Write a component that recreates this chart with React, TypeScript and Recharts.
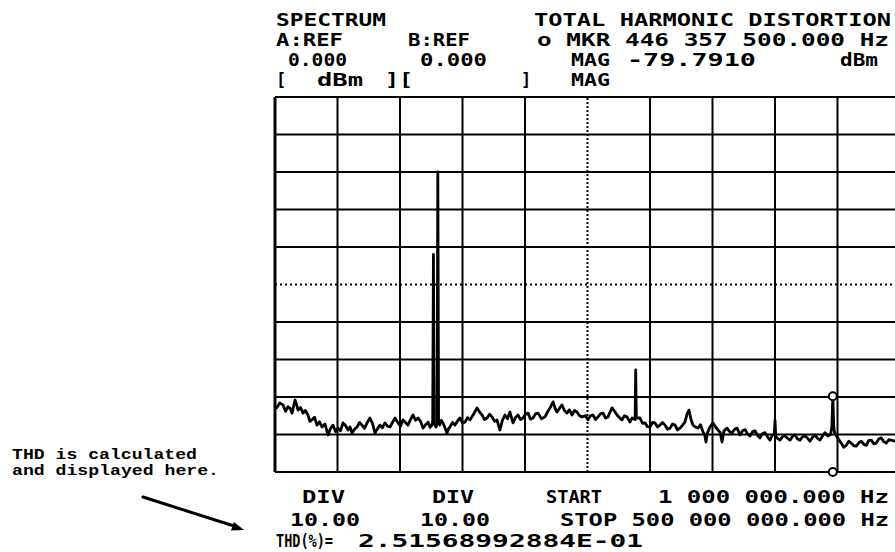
import React from "react";
import { LineChart, Line, XAxis, YAxis, ReferenceLine, ReferenceDot } from "recharts";

// Spectrum trace (frequency in MHz, level in dBm)
const freqMHz = [
  1, 2.4, 4.8, 7.4, 9.4, 11.4, 13.0, 14.6, 15.8, 17.0,
  18.2, 19.4, 21.4, 23.4, 25.3, 27.3, 28.9, 30.5, 32.5, 34.5,
  36.5, 38.5, 40.9, 43.3, 45.3, 47.3, 49.3, 51.3, 53.3, 55.3,
  57.3, 59.3, 60.9, 62.5, 64.5, 66.5, 68.5, 70.5, 72.5, 74.5,
  76.8, 78.8, 80.8, 82.8, 84.8, 86.8, 88.8, 90.8, 92.8, 94.8,
  96.8, 99.2, 101.2, 103.2, 105.2, 107.2, 109.2, 111.2, 113.2, 115.2,
  117.2, 119.2, 121.2, 123.2, 124.8, 126.3, 126.9, 127.5, 128.1, 129.5,
  130.4, 131.0, 131.6, 132.5, 133.8, 135.1, 136.7, 138.3, 139.5, 140.7,
  142.7, 144.7, 146.7, 148.7, 150.7, 152.7, 154.7, 156.7, 159.5, 162.3,
  164.3, 166.3, 168.3, 170.3, 172.3, 174.3, 176.3, 178.2, 180.6, 182.6,
  184.6, 186.6, 188.6, 191.0, 193.0, 195.0, 197.0, 199.0, 201.0, 203.0,
  205.0, 207.0, 209.0, 211.0, 213.8, 216.6, 218.6, 220.6, 223.0, 224.6,
  226.2, 228.2, 230.1, 232.1, 234.1, 236.1, 238.1, 240.1, 242.1, 244.1,
  246.1, 248.9, 250.9, 252.9, 254.9, 256.9, 258.9, 260.9, 262.9, 264.9,
  266.9, 268.5, 270.1, 272.1, 274.1, 276.0, 278.0, 280.0, 282.0, 284.4,
  286.2, 288.5, 289.0, 289.5, 292.4, 294.4, 296.4, 298.4, 300.4, 302.4,
  304.4, 306.4, 308.4, 310.4, 312.4, 314.4, 316.4, 318.4, 320.4, 322.4,
  324.4, 326.4, 328.3, 330.0, 331.5, 333.0, 334.7, 336.7, 338.7, 340.7,
  342.7, 344.0, 345.1, 346.3, 348.3, 350.7, 352.7, 354.7, 356.5, 357.9,
  359.5, 361.9, 363.9, 365.9, 367.9, 369.9, 372.3, 374.3, 376.3, 378.3,
  380.2, 382.2, 384.2, 386.2, 388.2, 390.2, 392.2, 394.2, 396.2, 398.2,
  399.6, 400.2, 400.8, 401.8, 404.2, 406.2, 408.2, 410.2, 412.2, 414.2,
  416.2, 418.2, 420.2, 422.2, 424.2, 426.2, 428.1, 430.1, 432.1, 434.1,
  436.1, 438.1, 440.1, 442.5, 444.5, 445.6, 446.357, 447.1, 447.7, 450.4,
  453.1, 455.1, 457.1, 459.1, 461.1, 463.1, 465.1, 467.1, 469.1, 471.1,
  473.1, 475.1, 477.1, 479.1, 481.0, 483.0, 485.0, 487.0, 489.0, 491.0,
  493.0, 496.2, 500,
];
const levelDbm = [
  -82.9, -82.9, -81.6, -82.1, -83.8, -82.6, -83.0, -84.3, -82.5, -80.8,
  -82.0, -83.5, -82.8, -84.3, -83.6, -84.8, -86.5, -86.1, -85.4, -87.5,
  -86.6, -88.0, -87.2, -90.1, -88.4, -87.5, -89.2, -88.3, -89.0, -86.9,
  -87.6, -88.8, -88.0, -89.6, -88.6, -88.0, -86.8, -87.5, -88.4, -86.9,
  -85.6, -87.0, -89.6, -88.5, -87.5, -88.2, -86.9, -87.8, -88.0, -86.8,
  -85.6, -86.9, -87.8, -86.1, -86.8, -87.5, -86.0, -84.8, -86.2, -85.6,
  -86.5, -88.3, -87.4, -86.7, -88.1, -87.5, -86.5, -42.0, -87.0, -88.0,
  -87.0, -20.0, -86.5, -87.5, -86.2, -86.9, -88.2, -89.6, -88.5, -88.0,
  -86.8, -87.5, -86.4, -85.6, -86.9, -86.7, -85.5, -86.1, -84.6, -82.9,
  -84.0, -84.8, -86.0, -85.6, -84.6, -85.3, -86.5, -86.1, -88.8, -86.2,
  -84.8, -85.8, -84.0, -86.9, -85.5, -84.8, -86.0, -85.6, -84.6, -84.3,
  -85.9, -85.6, -84.5, -84.3, -85.8, -85.3, -84.0, -82.9, -81.3, -83.0,
  -84.0, -83.0, -82.1, -83.6, -84.3, -83.4, -84.8, -83.6, -84.0, -85.0,
  -85.3, -85.0, -86.1, -85.0, -84.8, -86.0, -85.3, -84.5, -84.3, -85.6,
  -85.3, -84.0, -82.9, -83.8, -84.8, -85.5, -86.1, -85.0, -85.3, -86.7,
  -85.6, -86.0, -72.8, -85.6, -85.6, -87.0, -86.9, -87.9, -88.0, -86.8,
  -86.9, -88.0, -87.5, -86.8, -87.5, -88.6, -88.3, -87.2, -87.5, -88.8,
  -88.3, -87.5, -86.7, -84.5, -83.5, -85.8, -87.5, -88.0, -88.3, -87.4,
  -89.3, -90.0, -92.0, -89.5, -88.0, -86.9, -88.0, -88.8, -89.5, -92.0,
  -89.0, -88.3, -89.2, -89.6, -88.6, -88.3, -90.1, -89.0, -88.7, -89.8,
  -90.4, -89.3, -89.0, -90.2, -90.9, -89.8, -89.5, -90.6, -91.5, -90.1,
  -90.0, -86.2, -90.5, -90.9, -91.5, -90.6, -90.4, -91.0, -91.5, -90.5,
  -90.1, -91.2, -91.5, -90.6, -90.4, -91.0, -91.8, -90.8, -90.1, -91.0,
  -91.5, -90.4, -89.5, -90.4, -90.0, -88.0, -79.791, -88.0, -89.5, -91.0,
  -92.3, -93.4, -92.9, -91.8, -92.3, -93.0, -93.1, -92.2, -91.8, -92.6,
  -92.9, -91.6, -91.5, -92.5, -92.3, -91.2, -90.9, -91.9, -92.3, -91.4,
  -91.5, -91.8, -91.5,
];

// Graticule (10 divisions each way)
const xGridMHz = [1, 50.9, 100.8, 150.7, 200.6, 250.5, 300.4, 350.3, 400.2, 450.1, 500];
const yGridDbm = [0, -10, -20, -30, -40, -50, -60, -70, -80, -90, -100];
const xDottedMHz = [250.5];
const yDottedDbm = [-50];

// Marker
const markerMHz = 446.357;
const markerDbm = -79.791;

// Header / footer texts
const headerTexts = [
  { s: "SPECTRUM", x1: 276, x2: 386, y: 25.5 },
  { s: "TOTAL HARMONIC DISTORTION", x1: 534, x2: 891, y: 25.5 },
  { s: "A:REF", x1: 276, x2: 343, y: 45.5 },
  { s: "B:REF", x1: 408, x2: 470, y: 45.5 },
  { s: "o MKR 446 357 500.000 Hz", x1: 537, x2: 889, y: 45.5 },
  { s: "0.000", x1: 288, x2: 347, y: 65.5 },
  { s: "0.000", x1: 420, x2: 487, y: 65.5 },
  { s: "MAG", x1: 571, x2: 610, y: 65.5 },
  { s: "-79.7910", x1: 627, x2: 756, y: 65.5 },
  { s: "dBm", x1: 840, x2: 878, y: 65.5 },
  { s: "[", x1: 276, x2: 0, y: 85.5 },
  { s: "dBm", x1: 317, x2: 363, y: 85.5 },
  { s: "][", x1: 385, x2: 413, y: 85.5 },
  { s: "]", x1: 521, x2: 0, y: 85.5 },
  { s: "MAG", x1: 571, x2: 610, y: 85.5 },
  { s: "DIV", x1: 302, x2: 345, y: 503 },
  { s: "DIV", x1: 432, x2: 474, y: 503 },
  { s: "START", x1: 546, x2: 602, y: 503 },
  { s: "1 000 000.000 Hz", x1: 658, x2: 889, y: 503 },
  { s: "10.00", x1: 290, x2: 360, y: 525.5 },
  { s: "10.00", x1: 420, x2: 490, y: 525.5 },
  { s: "STOP 500 000 000.000 Hz", x1: 560, x2: 889, y: 525.5 },
  { s: "THD(%)=", x1: 276, x2: 333, y: 546.5 },
  { s: "2.51568992884E-01", x1: 358, x2: 643, y: 546.5 },
];

const noteTexts = [
  { s: "THD is calculated", x1: 12, x2: 197, y: 459 },
  { s: "and displayed here.", x1: 12, x2: 219, y: 475 },
];

const trace = freqMHz.map((f, i) => ({ f, v: levelDbm[i] }));

export default function App() {
  return (
    <div style={{ position: "absolute", left: 0, top: 0, width: 895, height: 552, overflow: "hidden", background: "#fff" }}>
      <div style={{ position: "absolute", left: 0, top: 0 }}>
        <LineChart width={920} height={552} data={trace} margin={{ top: 97, right: 20, bottom: 80, left: 275 }}>
          <XAxis dataKey="f" type="number" domain={[1, 500]} hide allowDataOverflow />
          <YAxis type="number" domain={[-100, 0]} hide allowDataOverflow />
          {xGridMHz.map((x) => (
            <ReferenceLine key={"vx" + x} x={x} stroke="#000" strokeWidth={x === 1 ? 3 : 2}
              strokeDasharray={xDottedMHz.includes(x) ? "2 2" : undefined} ifOverflow="visible" />
          ))}
          {yGridDbm.map((y) => (
            <ReferenceLine key={"hy" + y} y={y} stroke="#000" strokeWidth={2}
              strokeDasharray={yDottedDbm.includes(y) ? "2 3" : undefined} ifOverflow="visible" />
          ))}
          <Line type="linear" dataKey="v" stroke="#000" strokeWidth={2.8} dot={false}
            strokeLinejoin="round" isAnimationActive={false} />
          <ReferenceDot x={markerMHz} y={markerDbm} r={4} fill="#fff" stroke="#000" strokeWidth={2} ifOverflow="visible" />
          <ReferenceDot x={markerMHz} y={-100} r={4} fill="#fff" stroke="#000" strokeWidth={2} ifOverflow="visible" />
        </LineChart>
      </div>
      <svg width={895} height={552} style={{ position: "absolute", left: 0, top: 0, pointerEvents: "none" }}>
        {headerTexts.map((t, i) => (
          <text key={i} x={t.x1} y={t.y} fontFamily="'DejaVu Sans Mono', monospace" fontWeight="bold" fontSize={17}
            fill="#000" textLength={t.x2 > t.x1 ? t.x2 - t.x1 : undefined}
            lengthAdjust={t.x2 > t.x1 ? "spacingAndGlyphs" : undefined}>
            {t.s}
          </text>
        ))}
        {noteTexts.map((t, i) => (
          <text key={"n" + i} x={t.x1} y={t.y} fontFamily="'Liberation Mono', monospace" fontWeight="bold" fontSize={15}
            fill="#000" textLength={t.x2 - t.x1} lengthAdjust="spacingAndGlyphs">
            {t.s}
          </text>
        ))}
        <line x1={143} y1={497} x2={234} y2={526} stroke="#000" strokeWidth={3} strokeLinecap="round" />
        <polygon points="244,530 231,530.6 234,522" fill="#000" />
      </svg>
    </div>
  );
}
